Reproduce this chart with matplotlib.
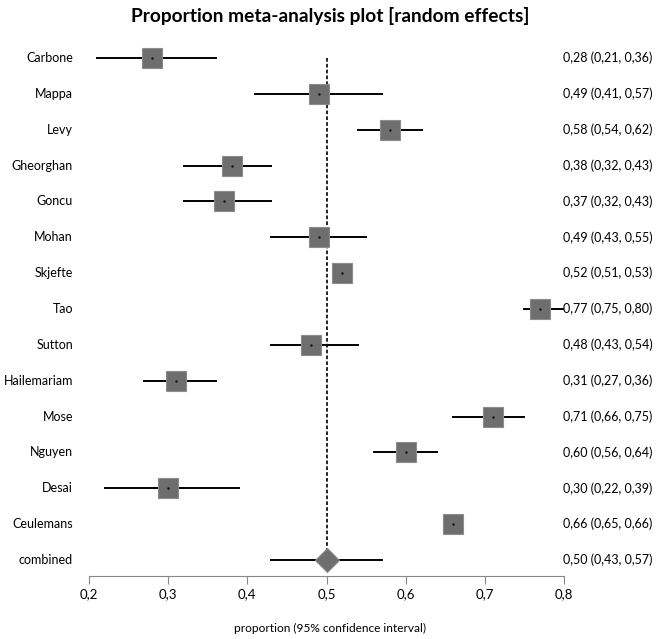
import matplotlib.pyplot as plt
import matplotlib.transforms as mtransforms

plt.rcParams['font.family'] = ['Lato', 'DejaVu Sans']

# Study names and proportions (95% CI)
studies = ["Carbone", "Mappa", "Levy", "Gheorghan", "Goncu", "Mohan", "Skjefte",
           "Tao", "Sutton", "Hailemariam", "Mose", "Nguyen", "Desai", "Ceulemans"]
prop = [0.28, 0.49, 0.58, 0.38, 0.37, 0.49, 0.52, 0.77, 0.48, 0.31, 0.71, 0.60, 0.30, 0.66]
lower = [0.21, 0.41, 0.54, 0.32, 0.32, 0.43, 0.51, 0.75, 0.43, 0.27, 0.66, 0.56, 0.22, 0.65]
upper = [0.36, 0.57, 0.62, 0.43, 0.43, 0.55, 0.53, 0.80, 0.54, 0.36, 0.75, 0.64, 0.39, 0.66]

combined = 0.50
combined_ci = (0.43, 0.57)

xticks = [0.2, 0.3, 0.4, 0.5, 0.6, 0.7, 0.8]

W, H = 661, 639
fig = plt.figure(figsize=(W / 100, H / 100), dpi=100)
ax = fig.add_axes([89 / W, 1 - 576 / H, (564 - 89) / W, (576 - 40) / H])

n = len(studies)
rows = list(range(n))

# individual studies
for i in rows:
    ax.plot([lower[i], upper[i]], [i, i], color='black', lw=1.4, zorder=2)
ax.plot(prop, rows, 's', ms=14.5, mfc='#6e6e6e', mec='#8c8c8c', mew=0.8, ls='none', zorder=3)
ax.plot(prop, rows, '.', ms=1.5, color='#111111', ls='none', zorder=4)

# combined estimate
ax.plot(list(combined_ci), [n, n], color='black', lw=1.4, zorder=2)
ax.plot([combined], [n], 'D', ms=12.2, mfc='#6e6e6e', mec='#8c8c8c', mew=0.8, zorder=3)

# reference line at combined
ax.plot([combined, combined], [0, n], color='black', lw=1.2, ls=(0, (2.2, 1.3)), zorder=1)

ax.set_xlim(0.2, 0.8)
ax.set_ylim(n + 0.446, -0.502)
ax.set_xticks(xticks)
ax.set_xticklabels([f"{t:.1f}".replace('.', ',') for t in xticks], fontsize=9.5)
ax.set_yticks([])
for s in ['top', 'left', 'right']:
    ax.spines[s].set_visible(False)
ax.spines['bottom'].set_color('#888888')
ax.tick_params(axis='x', length=6, color='#888888', pad=3)

# labels on the left and estimates on the right
trans = mtransforms.blended_transform_factory(fig.transFigure, ax.transData)
names = studies + ["combined"]
texts = [f"{p:.2f} ({l:.2f}, {u:.2f})".replace('.', ',') for p, l, u in zip(prop, lower, upper)]
texts.append(f"{combined:.2f} ({combined_ci[0]:.2f}, {combined_ci[1]:.2f})".replace('.', ','))
for i, (name, txt) in enumerate(zip(names, texts)):
    ax.text(73 / W, i, name, transform=trans, ha='right', va='center', fontsize=9)
    ax.text(563 / W, i, txt, transform=trans, ha='left', va='center', fontsize=9)

fig.text(0.5, 1 - 16 / H, "Proportion meta-analysis plot [random effects]",
         ha='center', va='center', fontsize=13.8, fontweight='bold')
fig.text(0.5, 1 - 628 / H, "proportion (95% confidence interval)",
         ha='center', va='center', fontsize=8.6)

fig.savefig('out.png', dpi=100)
